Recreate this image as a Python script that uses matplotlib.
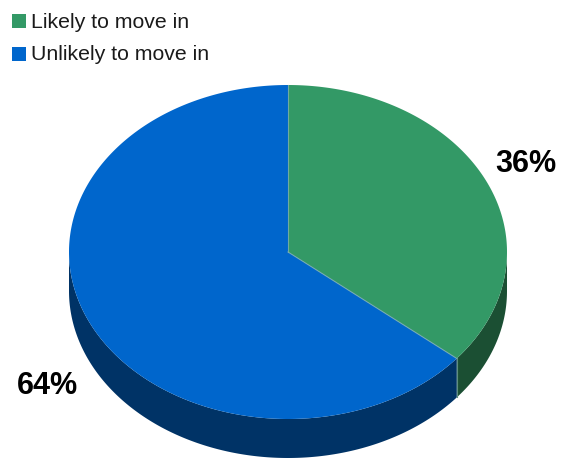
import numpy as np
import matplotlib
matplotlib.use("Agg")
import matplotlib.pyplot as plt
from matplotlib.patches import Polygon, Rectangle

plt.rcParams['font.family'] = ['Liberation Sans', 'DejaVu Sans']

categories = ["Likely to move in", "Unlikely to move in"]
shares = [36, 64]
top_colors = ["#339966", "#0066cc"]
side_colors = ["#1b4f33", "#003366"]

W, H = 561, 460
fig = plt.figure(figsize=(W / 100, H / 100), dpi=100)
ax = fig.add_axes([0, 0, 1, 1])
ax.set_xlim(0, W)
ax.set_ylim(H, 0)
ax.axis("off")

cx, cy = 288, 253
rx, ry = 219, 167
depth = 39


def pt(theta_deg):
    t = np.radians(theta_deg)
    return cx + rx * np.sin(t), cy - ry * np.cos(t)


total = float(sum(shares))
bounds = np.concatenate([[0], np.cumsum(shares) / total * 360.0])

# side walls (only the front half, 90..270 deg clockwise from 12 o'clock)
for i in range(len(shares)):
    a0, a1 = max(bounds[i], 90), min(bounds[i + 1], 270)
    if a1 <= a0:
        continue
    th = np.linspace(a0, a1, 200)
    xs, ys = pt(th)
    poly = np.column_stack([np.concatenate([xs, xs[::-1]]),
                            np.concatenate([ys, ys[::-1] + depth])])
    ax.add_patch(Polygon(poly, closed=True, facecolor=side_colors[i],
                         edgecolor="none", zorder=1))

# vertical seams on the side wall where slices meet
for b in bounds[1:-1]:
    if 90 < b < 270:
        x, y = pt(b)
        ax.plot([x, x], [y, y + depth], color="#5f8f7f", lw=0.8, zorder=2)

# top faces
for i in range(len(shares)):
    th = np.linspace(bounds[i], bounds[i + 1], 300)
    xs, ys = pt(th)
    poly = np.column_stack([np.concatenate([[cx], xs]),
                            np.concatenate([[cy], ys])])
    ax.add_patch(Polygon(poly, closed=True, facecolor=top_colors[i],
                         edgecolor="none", zorder=3))

# radial seams on the top face
for b in bounds[:-1]:
    x, y = pt(b)
    ax.plot([cx, x], [cy, y], color="#7fb0b0", lw=0.8, alpha=0.8, zorder=4)

# percentage labels
label_pos = [(526, 164), (47, 386)]
for (lx, ly), s in zip(label_pos, shares):
    ax.text(lx, ly, f"{s}%", fontsize=22, fontweight="bold",
            ha="center", va="center", color="black", zorder=5)

# legend
for k, (name, col) in enumerate(zip(categories, top_colors)):
    y0 = 22 + 33 * k
    ax.add_patch(Rectangle((12, y0 - 7), 14, 14, facecolor=col,
                           edgecolor="none", zorder=5))
    ax.text(31, y0, name, fontsize=15.3, ha="left", va="center",
            color="#1a1a1a", zorder=5)

fig.savefig("out.png", dpi=100)
